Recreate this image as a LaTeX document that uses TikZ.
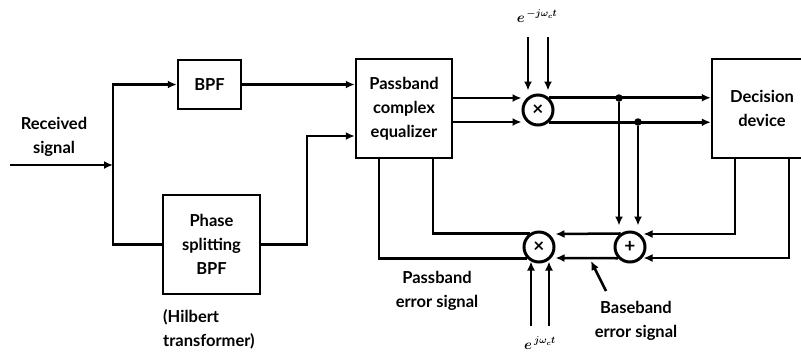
\documentclass[tikz,border=0pt]{standalone}
\usepackage{fontspec}
\setmainfont{Lato}
\usetikzlibrary{arrows.meta}
\newcommand{\lbl}{\fontsize{16.5bp}{24bp}\selectfont\bfseries}
\tikzset{
  sig/.style={line width=2.5bp},
  arr/.style={line width=2.5bp,-{Latex[length=9bp,width=8bp]}},
  blockbox/.style={draw,line width=2.5bp,align=center,inner sep=0pt,font=\lbl},
  mixer/.style={circle,draw,line width=3bp,minimum size=30bp,inner sep=0pt,font=\fontsize{19bp}{19bp}\selectfont\bfseries},
  txt/.style={align=center,inner sep=0pt,font=\lbl},
  mathlbl/.style={inner sep=0pt,font=\fontsize{14bp}{16bp}\selectfont\boldmath},
  dotnode/.style={circle,fill,inner sep=0pt,minimum size=7.5bp},
}
\begin{document}
\begin{tikzpicture}[x=1bp,y=-1bp]
\useasboundingbox (0,0) rectangle (801,352);
\clip (0,0) rectangle (801,352);
% blocks
\node[blockbox,minimum width=63bp,minimum height=49bp] (bpf) at (209.5,84.5) {BPF};
\node[blockbox,minimum width=97bp,minimum height=99bp] (phase) at (211.5,244.5) {Phase\\splitting\\BPF};
\node[blockbox,minimum width=96bp,minimum height=99bp] (eq) at (404,108.5) {Passband\\complex\\equalizer};
\node[blockbox,minimum width=100bp,minimum height=99bp] (dec) at (762,108.5) {Decision\\device};
\node[mixer] (mtop) at (538,110) {×};
\node[mixer] (mbot) at (539,247) {×};
\node[mixer] (plus) at (630,247) {+};
% labels
\node[txt] (rx) at (54,137) {Received\\signal};
\node[txt,align=left,anchor=west] (hil) at (163,329) {(Hilbert\\transformer)};
\node[txt] (pbe) at (437,291) {Passband\\error signal};
\node[txt] (bbe) at (636,321) {Baseband\\error signal};
\node[mathlbl] (etop) at (537,16) {$e^{\,-j\omega_c t}$};
\node[mathlbl] (ebot) at (540,343) {$e^{\,j\omega_c t}$};
% helper coordinates
\coordinate (rin) at (10,165);
\coordinate (j) at (113,165);
\coordinate (xb) at (307,0);
\coordinate (eqin2) at (0,136);
\coordinate (u) at (0,98);
\coordinate (l) at (0,122);
\coordinate (ya) at (0,234);
\coordinate (yb) at (0,258);
\coordinate (xe1) at (379,0);
\coordinate (xe2) at (433,0);
\coordinate (xd1) at (735,0);
\coordinate (xd2) at (789,0);
\coordinate (t1) at (528,37);
\coordinate (t2) at (548,37);
\coordinate (b1) at (531,326);
\coordinate (b2) at (549,326);
\coordinate (bp1) at (606,291);
\coordinate (bp2) at (591,261);
\node[dotnode] (d1) at (619,98) {};
\node[dotnode] (d2) at (638,122) {};
% input section
\draw[arr] (rin) -- (j);
\draw[arr] (j) |- (bpf.west);
\draw[sig] (j) |- (phase.west);
\draw[arr] (bpf.east) -- (bpf.east -| eq.west);
\draw[arr] (phase.east) -- (phase.east -| xb) |- (eq.west |- eqin2);
% equalizer to top mixer
\draw[arr] (eq.east |- u) -- (mtop.west |- u);
\draw[arr] (eq.east |- l) -- (mtop.west |- l);
\draw[arr,shorten >=3bp] (t1) -- (t1 |- mtop.north);
\draw[arr,shorten >=3bp] (t2) -- (t2 |- mtop.north);
% top mixer to decision
\draw[arr] (mtop.48.59) -- (mtop.48.59 -| dec.west);
\draw[arr] (mtop.-48.59) -- (mtop.-48.59 -| dec.west);
% taps to adder
\draw[arr,shorten >=5bp] (d1) -- (d1 |- plus.north);
\draw[arr,shorten >=5bp] (d2) -- (d2 |- plus.north);
% decision to adder
\draw[arr,shorten >=-3bp] (dec.south -| xd1) |- (plus.east |- ya);
\draw[arr,shorten >=-3bp] (dec.south -| xd2) |- (plus.east |- yb);
% adder to bottom mixer
\draw[arr] (plus.125.66) -- (mbot.east |- ya);
\draw[arr] (plus.223.43) -- (mbot.east |- yb);
% bottom mixer inputs
\draw[arr,shorten >=-2bp] (b1) -- (b1 |- mbot.south);
\draw[arr,shorten >=-2bp] (b2) -- (b2 |- mbot.south);
% bottom mixer to equalizer
\draw[sig] (mbot.125.66) -| (eq.south -| xe2);
\draw[sig] (mbot.223.43) -| (eq.south -| xe1);
% pointer
\draw[arr] (bp1) -- (bp2);
\end{tikzpicture}
\end{document}
